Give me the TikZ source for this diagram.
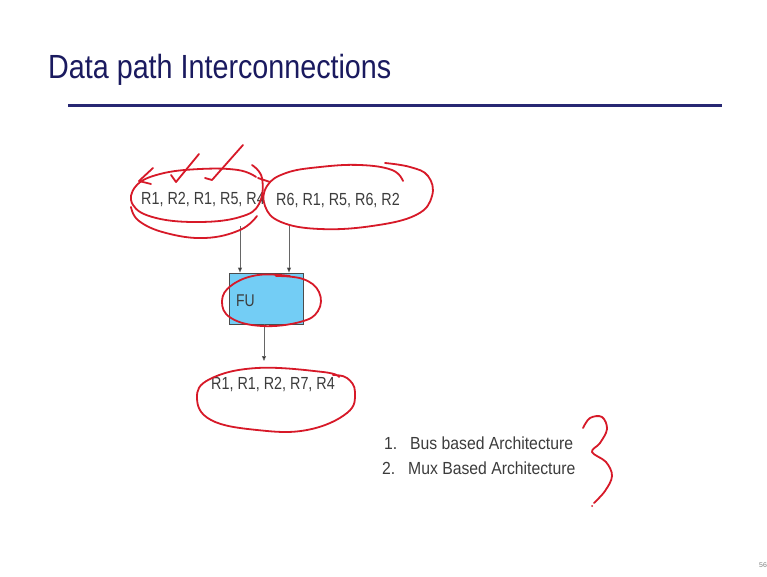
\documentclass[tikz,border=0pt]{standalone}
\usepackage{fontspec}
\setmainfont{Liberation Sans}
\newfontfamily\headnarrow[FakeStretch=0.857]{Liberation Sans}
\newfontfamily\regnarrow[FakeStretch=0.82]{Liberation Sans}
\newfontfamily\listnarrow[FakeStretch=0.9]{Liberation Sans}
\usetikzlibrary{arrows.meta}
\definecolor{titleblue}{RGB}{26,26,95}
\definecolor{rulecol}{RGB}{40,40,115}
\definecolor{textgray}{RGB}{60,60,60}
\definecolor{fufill}{RGB}{115,205,245}
\definecolor{inkred}{RGB}{215,25,40}
\tikzset{
  regs/.style={font=\regnarrow\fontsize{17.5}{20}\selectfont, text=textgray, inner sep=0pt, anchor=base west},
  listitem/.style={font=\listnarrow\fontsize{17.5}{20}\selectfont, text=textgray, inner sep=0pt, anchor=base west},
  flow/.style={draw=gray!80!black, line width=0.8pt, -{Triangle[length=5pt,width=4pt,fill=black]}},
  ink/.style={draw=inkred, line width=1.8pt, line cap=round, line join=round}
}
\begin{document}
\begin{tikzpicture}[x=1pt,y=-1pt]
\useasboundingbox (0,0) rectangle (767,577);
\fill[white] (0,0) rectangle (767,577);

% heading and rule
\node[font=\headnarrow\fontsize{33.5}{38}\selectfont, text=titleblue, inner sep=0pt, anchor=base west] (title) at (48,79) {Data path Interconnections};
\draw[rulecol, line width=3pt] (68,106) coordinate (rl) -- (722,106) coordinate (rr);

% register sequences and functional unit
\node[regs] (inA) at (141,204.5) {R1, R2, R1, R5, R4};
\node[regs] (inB) at (276,205) {R6, R1, R5, R6, R2};
\node[draw=gray!60!black, fill=fufill, line width=0.8pt, minimum width=74pt, minimum height=51pt, inner sep=0pt] (fu) at (266,298.5) {};
\node[font=\regnarrow\fontsize{17}{20}\selectfont, text=textgray, inner sep=0pt, anchor=base west] (fulab) at (236,306) {FU};
\node[regs] (out) at (211,389.5) {R1, R1, R2, R7, R4};

\coordinate (a1) at (240,226);
\coordinate (a2) at (289,226);
\draw[flow] (a1) -- (a1 |- fu.north);
\draw[flow] (a2) -- (a2 |- fu.north);
\coordinate (a3) at (264,361);
\draw[flow] (a3 |- fu.south) -- (a3);

% list of architectures
\node[listitem] (n1) at (384,449) {1.};
\node[listitem] (l1) at (410,449) {Bus based Architecture};
\node[listitem] (n2) at (382,474) {2.};
\node[listitem] (l2) at (408,474) {Mux Based Architecture};

% page number
\node[font=\fontsize{7}{8}\selectfont, text=gray, inner sep=0pt, anchor=base west] (pg) at (759,567) {56};

% hand-drawn annotations
\draw[ink] plot[smooth, tension=0.7] coordinates {(252,165) (262,178) (259,204) (240,217) (200,222) (156,218) (133,205) (136,186) (160,174) (200,169) (238,170) (256,177)};
\draw[ink] plot[smooth, tension=0.7] coordinates {(257,216) (240,230) (205,238) (166,233) (139,221) (131,207)};
\draw[ink] (153,168) -- (139,181) -- (151,184);
\draw[ink] (171,175) -- (176,182) -- (199,154);
\draw[ink] (205,178) -- (212,180) -- (243,145);
\draw[ink] plot[smooth, tension=0.7] coordinates {(403,181) (392,170) (360,165) (320,167) (286,173) (267,186) (265,206) (281,222) (320,229) (372,226) (416,215) (432,196) (428,176) (410,167) (385,163)};
\draw[ink] plot[smooth, tension=0.7] coordinates {(258,178) (264,180) (270,182)};
\draw[ink] plot[smooth, tension=0.7] coordinates {(276,276) (303,279) (319,292) (318,311) (300,322) (262,326) (231,318) (222,301) (232,285) (258,275) (290,276)};
\draw[ink] plot[smooth, tension=0.7] coordinates {(333,375) (347,378) (355,392) (347,413) (307,430) (257,430) (211,420) (197,398) (210,379) (257,368) (323,372) (339,377)};
\draw[ink] plot[smooth, tension=0.6] coordinates {(583,428) (590,418) (602,417) (607,429) (600,443) (592,452) (606,462) (612,476) (605,491) (594,503)};
\fill[inkred] (592,506) circle (1pt);
\end{tikzpicture}
\end{document}
